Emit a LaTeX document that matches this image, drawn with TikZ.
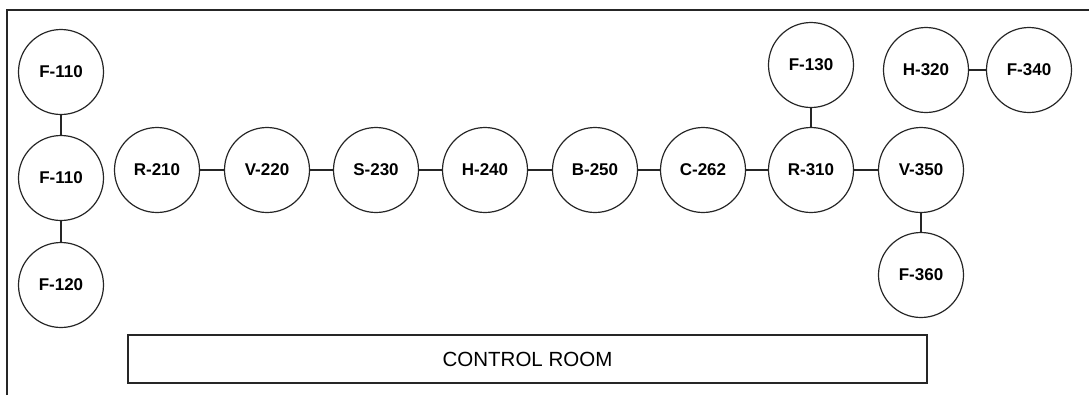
\documentclass[tikz,border=0pt]{standalone}
\usepackage{fontspec}
\setmainfont{Liberation Sans}
\begin{document}
\begin{tikzpicture}[x=1bp,y=-1bp,
  unit/.style={circle,draw=black!85,line width=1.2bp,minimum size=85bp,inner sep=0pt,
    font=\fontsize{17bp}{19bp}\selectfont\bfseries},
  link/.style={draw=black!85,line width=1.3bp},
  room/.style={draw=black!85,line width=1.3bp,minimum width=799bp,minimum height=48bp,
    inner sep=0pt,font=\fontsize{20.5bp}{23bp}\selectfont}]
\useasboundingbox (0,0) rectangle (1089,395);
\draw[line width=2bp,black!85] (7,395) -- (7,10) -- (1089,10);
% left column
\node[unit] (f110a) at (61,72) {F-110};
\node[unit] (f110b) at (61,178) {F-110};
\node[unit] (f120) at (61,285) {F-120};
% main row
\node[unit] (r210) at (157,170) {R-210};
\node[unit] (v220) at (267,170) {V-220};
\node[unit] (s230) at (376,170) {S-230};
\node[unit] (h240) at (485,170) {H-240};
\node[unit] (b250) at (595,170) {B-250};
\node[unit] (c262) at (703,170) {C-262};
\node[unit] (r310) at (811,170) {R-310};
\node[unit] (v350) at (921,170) {V-350};
% others
\node[unit] (f130) at (811,65) {F-130};
\node[unit] (h320) at (926,70) {H-320};
\node[unit] (f340) at (1029,70) {F-340};
\node[unit] (f360) at (921,275) {F-360};
\node[room] (cr) at (527.5,359) {CONTROL ROOM};
% links
\draw[link] (f110a) -- (f110b);
\draw[link] (f110b) -- (f120);
\draw[link] (r210) -- (v220);
\draw[link] (v220) -- (s230);
\draw[link] (s230) -- (h240);
\draw[link] (h240) -- (b250);
\draw[link] (b250) -- (c262);
\draw[link] (c262) -- (r310);
\draw[link] (r310) -- (v350);
\draw[link] (f130) -- (r310);
\draw[link] (h320) -- (f340);
\draw[link] (v350) -- (f360);
\end{tikzpicture}
\end{document}
